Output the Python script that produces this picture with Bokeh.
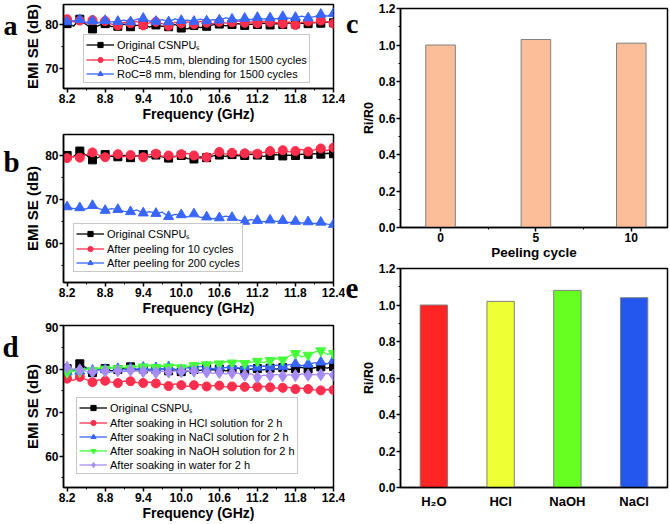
from bokeh.plotting import figure
from bokeh.layouts import row, column
from bokeh.models import (Range1d, FactorRange, FixedTicker, PrintfTickFormatter,
                          Legend, LegendItem)
from bokeh.core.properties import value
from bokeh.embed import file_html
from bokeh.resources import INLINE

# ---------------- data ----------------
freq = [8.2, 8.3, 8.4, 8.5, 8.6, 8.7, 8.8, 8.9, 9.0, 9.1,
        9.2, 9.3, 9.4, 9.5, 9.6, 9.7, 9.8, 9.9, 10.0, 10.1,
        10.2, 10.3, 10.4, 10.5, 10.6, 10.7, 10.8, 10.9, 11.0, 11.1,
        11.2, 11.3, 11.4, 11.5, 11.6, 11.7, 11.8, 11.9, 12.0, 12.1,
        12.2, 12.3, 12.4]
freq_ticks = [8.2, 8.8, 9.4, 10.0, 10.6, 11.2, 11.8, 12.4]
freq_minor = [8.5, 9.1, 9.7, 10.3, 10.9, 11.5, 12.1]

# panel a
a_original = [80.2, 79.6, 81.2, 80.0, 79.0, 79.8, 80.2, 79.5, 79.6, 80.1,
              79.5, 79.8, 80.0, 79.4, 79.9, 79.6, 79.5, 80.0, 79.2, 79.0,
              79.8, 79.3, 79.6, 79.9, 80.1, 79.7, 80.0, 80.2, 79.8, 80.1,
              80.0, 80.3, 79.9, 80.2, 80.0, 80.4, 80.1, 80.3, 80.2, 80.5,
              80.3, 80.6, 80.4]
a_roc45 = [81.2, 80.6, 80.9, 80.3, 81.0, 80.4, 80.8, 80.1, 79.8, 80.5,
           80.3, 80.7, 79.8, 80.4, 80.6, 80.2, 79.7, 80.5, 80.3, 80.6,
           80.1, 80.7, 80.4, 80.2, 80.6, 80.3, 80.5, 80.8, 80.4, 80.6,
           80.3, 80.7, 80.5, 80.4, 80.2, 80.6, 79.9, 80.5, 80.7, 80.4,
           80.9, 80.6, 80.2]
a_roc8 = [80.6, 80.9, 81.1, 80.5, 80.8, 80.4, 80.9, 80.6, 80.7, 81.0,
          80.6, 81.2, 81.4, 80.8, 80.7, 81.1, 80.6, 81.3, 80.9, 81.0,
          80.7, 81.2, 80.8, 81.1, 81.0, 81.5, 81.2, 81.0, 81.4, 81.1,
          81.6, 81.2, 81.5, 81.3, 81.8, 81.4, 81.6, 81.9, 81.5, 81.8,
          82.3, 81.9, 82.5]
a_labels = ["Original CSNPU\u209b", "RoC=4.5 mm, blending for 1500 cycles",
            "RoC=8 mm, blending for 1500 cycles"]
a_yticks = [70, 80]
a_yminor = [75]

# panel b
b_original = [80.0, 79.7, 81.0, 80.1, 79.0, 79.6, 80.2, 79.8, 79.7, 80.0,
              79.5, 79.9, 80.2, 79.6, 80.1, 79.7, 79.4, 79.8, 80.0, 79.3,
              79.2, 79.7, 79.5, 79.9, 80.1, 79.8, 80.2, 79.9, 80.0, 80.3,
              80.1, 79.8, 80.0, 80.2, 79.9, 80.1, 80.0, 80.3, 80.2, 80.4,
              80.3, 80.5, 80.4]
b_peel10 = [79.4, 79.8, 79.5, 80.2, 80.7, 80.1, 79.6, 80.0, 80.3, 79.7,
            80.1, 79.9, 79.6, 80.2, 80.4, 79.8, 80.0, 79.7, 80.3, 80.5,
            80.0, 79.3, 79.6, 80.4, 80.8, 80.3, 80.6, 80.2, 80.5, 80.8,
            80.4, 80.7, 81.0, 80.6, 81.2, 80.8, 81.0, 81.4, 80.9, 81.3,
            81.6, 81.1, 81.8]
b_peel200 = [68.3, 67.9, 68.1, 67.8, 68.6, 67.9, 67.5, 67.9, 67.7, 67.3,
             67.2, 67.6, 66.9, 67.2, 66.8, 67.1, 66.1, 66.6, 66.5, 66.0,
             66.7, 65.9, 66.0, 65.6, 65.8, 66.2, 65.9, 65.3, 65.0, 65.4,
             65.2, 64.9, 65.3, 65.0, 65.2, 64.7, 65.0, 64.6, 64.9, 64.5,
             64.8, 64.4, 64.3]
b_labels = ["Original CSNPU\u209b", "After peeling for 10 cycles",
            "After peeling for 200 cycles"]
b_yticks = [60, 70, 80]
b_yminor = [55, 65, 75]

# panel d
d_original = [80.1, 79.6, 81.2, 80.3, 79.2, 79.8, 80.1, 79.6, 79.9, 80.2,
              80.5, 79.8, 80.0, 79.7, 79.9, 80.1, 79.6, 79.8, 79.4, 79.6,
              79.9, 79.7, 80.1, 79.8, 80.0, 79.6, 79.9, 80.2, 79.7, 80.0,
              80.1, 79.8, 80.2, 80.0, 80.3, 79.9, 80.1, 80.4, 80.0, 80.3,
              80.5, 80.2, 80.6]
d_hcl = [77.8, 77.4, 78.2, 77.6, 77.0, 77.5, 77.3, 77.0, 76.8, 77.2,
         77.2, 76.9, 76.8, 77.0, 76.7, 76.5, 76.1, 76.6, 76.3, 76.0,
         76.3, 76.4, 76.0, 76.2, 76.2, 75.9, 76.0, 76.1, 75.9, 75.8,
         75.9, 76.0, 75.8, 75.6, 75.7, 75.8, 75.4, 75.6, 75.4, 75.2,
         75.1, 75.3, 75.2]
d_nacl = [79.3, 79.8, 79.5, 80.2, 79.7, 80.0, 79.9, 80.3, 80.1, 79.8,
          80.2, 80.0, 80.4, 79.9, 80.3, 80.1, 80.5, 80.0, 79.8, 80.3,
          80.2, 80.6, 80.4, 80.1, 80.5, 80.3, 80.7, 80.2, 80.5, 80.8,
          80.4, 80.7, 80.5, 80.9, 80.6, 81.0, 81.2, 80.8, 81.1, 81.4,
          81.6, 81.2, 82.0]
d_naoh = [79.2, 79.6, 79.4, 80.0, 79.7, 80.2, 80.0, 80.3, 80.1, 80.4,
          80.2, 80.6, 80.5, 80.8, 80.4, 80.7, 80.5, 80.9, 80.3, 80.6,
          80.8, 81.3, 81.0, 81.5, 81.2, 81.7, 81.4, 81.9, 81.3, 81.6,
          81.8, 81.5, 82.0, 82.4, 82.1, 83.0, 83.6, 82.8, 83.2, 83.9,
          84.2, 83.4, 83.6]
d_water = [80.4, 80.0, 79.8, 79.5, 79.3, 79.7, 79.5, 79.3, 79.6, 79.4,
           79.7, 79.5, 79.4, 79.6, 79.2, 79.5, 79.3, 79.6, 79.4, 79.7,
           79.5, 79.1, 79.3, 79.0, 79.2, 78.9, 79.1, 79.0, 78.6, 78.9,
           78.1, 78.6, 78.5, 78.8, 78.4, 78.7, 78.5, 78.9, 78.6, 78.8,
           78.7, 79.0, 78.6]
d_labels = ["Original CSNPU\u209b", "After soaking in HCl solution for 2 h",
            "After soaking in NaCl solution for 2 h",
            "After soaking in NaOH solution for 2 h",
            "After soaking in water for 2 h"]
d_yticks = [60, 70, 80, 90]
d_yminor = [55, 65, 75, 85]

# panel c
peel_cycles = [0, 5, 10]
peel_ratio = [1.00, 1.03, 1.01]
peel_minor = [2.5, 7.5]

# panel e
solutions = ["H\u2082O", "HCl", "NaOH", "NaCl"]
solution_ratio = [1.00, 1.02, 1.08, 1.04]

ratio_ticks = [0.0, 0.2, 0.4, 0.6, 0.8, 1.0, 1.2]
ratio_minor = [0.1, 0.3, 0.5, 0.7, 0.9, 1.1]

# ---------------- style ----------------
SANS = "Liberation Sans"
SERIF = "Liberation Serif"
BLACK = "#000000"
RED = "#FF2E4C"
BLUE = "#3866FF"
GREEN = "#44FF3A"
PURPLE = "#A68BF6"
BAR_C = "#FBBE98"
BAR_E = ["#FF2525", "#EEFF33", "#66FF22", "#2457EE"]
EDGE = "#808080"

TOTAL_H = 524
STRIP_L = 21
LEFT_W = 324
STRIP_M = 13
RIGHT_W = 312


def base_fig(width, height, xr, yr, bl, br, bt, bb):
    p = figure(width=width, height=height, x_range=xr, y_range=yr,
               output_backend="svg", toolbar_location=None,
               min_border_left=bl, min_border_right=br,
               min_border_top=bt, min_border_bottom=bb)
    p.xgrid.visible = False
    p.ygrid.visible = False
    p.outline_line_color = "black"
    p.outline_line_width = 1.5
    p.outline_line_alpha = 1.0
    p.background_fill_color = "white"
    p.border_fill_color = "white"
    return p


def style_axis(ax, label, label_size, ticker=None, fmt=None,
               tick_out=4, minor_out=2, label_font_size="12px",
               label_standoff=1, title_standoff=1):
    ax.axis_label = label
    if ticker is not None:
        ax.ticker = ticker
    if fmt is not None:
        ax.formatter = fmt
    ax.axis_line_width = 1.5
    ax.axis_line_color = "black"
    ax.major_tick_line_width = 1.5
    ax.major_tick_line_color = "black"
    ax.major_tick_in = 0
    ax.major_tick_out = tick_out
    ax.minor_tick_in = 0
    ax.minor_tick_out = minor_out
    ax.minor_tick_line_width = 1
    ax.minor_tick_line_color = "black"
    ax.major_label_text_font = SANS
    ax.major_label_text_font_style = "bold"
    ax.major_label_text_font_size = label_font_size
    ax.major_label_text_color = "black"
    ax.major_label_standoff = label_standoff
    ax.axis_label_text_font = SANS
    ax.axis_label_text_font_style = "bold"
    ax.axis_label_text_font_size = label_size
    ax.axis_label_text_color = "black"
    ax.axis_label_standoff = title_standoff


def letter_strip(width, letters):
    p = figure(width=width, height=TOTAL_H, x_range=Range1d(0, width),
               y_range=Range1d(TOTAL_H, 0), output_backend="svg",
               toolbar_location=None, x_axis_location=None,
               y_axis_location=None, min_border=0, min_border_left=0,
               min_border_right=0, min_border_top=0, min_border_bottom=0)
    p.xgrid.visible = False
    p.ygrid.visible = False
    p.outline_line_color = None
    p.background_fill_color = "white"
    p.border_fill_color = "white"
    for txt, x, y, size in letters:
        p.text(x=[x], y=[y], text=[txt], text_font=value(SERIF),
               text_font_style="bold", text_font_size=value(size),
               text_color="black", text_baseline="alphabetic",
               text_align="left")
    return p


def emi_panel(height, yr, yticks, yminor, series, legend_loc, bt, bb):
    p = base_fig(LEFT_W, height, Range1d(8.143, 12.4), Range1d(*yr), 41, 12, bt, bb)
    style_axis(p.xaxis[0], "Frequency (GHz)", "14px",
               FixedTicker(ticks=freq_ticks, minor_ticks=freq_minor),
               PrintfTickFormatter(format="%.1f"), title_standoff=0)
    style_axis(p.yaxis[0], "EMI SE (dB)", "15px",
               FixedTicker(ticks=yticks, minor_ticks=yminor),
               PrintfTickFormatter(format="%d"))
    items = []
    for vals, color, marker, size, label in series:
        ln = p.line(freq, vals, line_color=color, line_width=1.3)
        mk = p.scatter(freq[::2], vals[::2], marker=marker, size=size,
                       fill_color=color, line_color=color)
        items.append(LegendItem(label=label, renderers=[ln, mk]))
    leg = Legend(items=items, location=legend_loc,
                 border_line_color="#909090", border_line_width=1,
                 background_fill_color="white", background_fill_alpha=1.0,
                 padding=2, spacing=1, margin=0,
                 glyph_width=28, glyph_height=13, label_height=13,
                 label_standoff=3, label_text_font=SANS,
                 label_text_font_size="11px", label_text_color="black")
    p.add_layout(leg)
    return p


pa = emi_panel(126, (65.45, 84.55), a_yticks, a_yminor,
               [(a_original, BLACK, "square", 8, a_labels[0]),
                (a_roc45, RED, "circle", 9, a_labels[1]),
                (a_roc8, BLUE, "triangle", 10, a_labels[2])],
               (20, 5), 4, 38)

pb = emi_panel(196, (51.1, 84.77), b_yticks, b_yminor,
               [(b_original, BLACK, "square", 8, b_labels[0]),
                (b_peel10, RED, "circle", 9, b_labels[1]),
                (b_peel200, BLUE, "triangle", 10, b_labels[2])],
               (10, 10), 8, 40)

pd_ = emi_panel(202, (52.8, 90.0), d_yticks, d_yminor,
                [(d_original, BLACK, "square", 8, d_labels[0]),
                 (d_hcl, RED, "circle", 9, d_labels[1]),
                 (d_nacl, BLUE, "triangle", 10, d_labels[2]),
                 (d_naoh, GREEN, "inverted_triangle", 10, d_labels[3]),
                 (d_water, PURPLE, "diamond", 12, d_labels[4])],
                (13, 13), 3, 37)

# panel c
pc = base_fig(RIGHT_W, 262, Range1d(-2.1, 11.9), Range1d(0, 1.2), 36, 3, 8, 34)
style_axis(pc.xaxis[0], "Peeling cycle", "13.5px",
           FixedTicker(ticks=peel_cycles, minor_ticks=peel_minor), None,
           label_standoff=1, title_standoff=0)
style_axis(pc.yaxis[0], "Ri/R0", "12.5px",
           FixedTicker(ticks=ratio_ticks, minor_ticks=ratio_minor),
           PrintfTickFormatter(format="%.1f"), label_standoff=1,
           title_standoff=0)
pc.vbar(x=peel_cycles, top=peel_ratio, bottom=0, width=1.55,
        fill_color=BAR_C, line_color=EDGE, line_width=1)

# panel e
pe = base_fig(RIGHT_W, 262, FactorRange(factors=solutions, range_padding=0.0),
              Range1d(0, 1.2), 36, 3, 6, 37)
style_axis(pe.xaxis[0], None, "13px", None, None, tick_out=0, minor_out=0,
           label_font_size="13px", label_standoff=6)
pe.xaxis[0].major_tick_line_color = None
style_axis(pe.yaxis[0], "Ri/R0", "12.5px",
           FixedTicker(ticks=ratio_ticks, minor_ticks=ratio_minor),
           PrintfTickFormatter(format="%.1f"), label_standoff=1,
           title_standoff=0)
pe.vbar(x=solutions, top=solution_ratio, bottom=0, width=0.41,
        fill_color=BAR_E, line_color=EDGE, line_width=1)

# panel letters
left_letters = letter_strip(STRIP_L, [("a", 3, 25, "28px"),
                                      ("b", 3, 161, "29px"),
                                      ("d", 2, 346, "29px")])
mid_letters = letter_strip(STRIP_M, [("c", 0.5, 23, "28px"),
                                     ("e", 0, 288, "29px")])

layout = row(left_letters, column(pa, pb, pd_), mid_letters, column(pc, pe))

open("out.html", "w").write(file_html(layout, INLINE))
